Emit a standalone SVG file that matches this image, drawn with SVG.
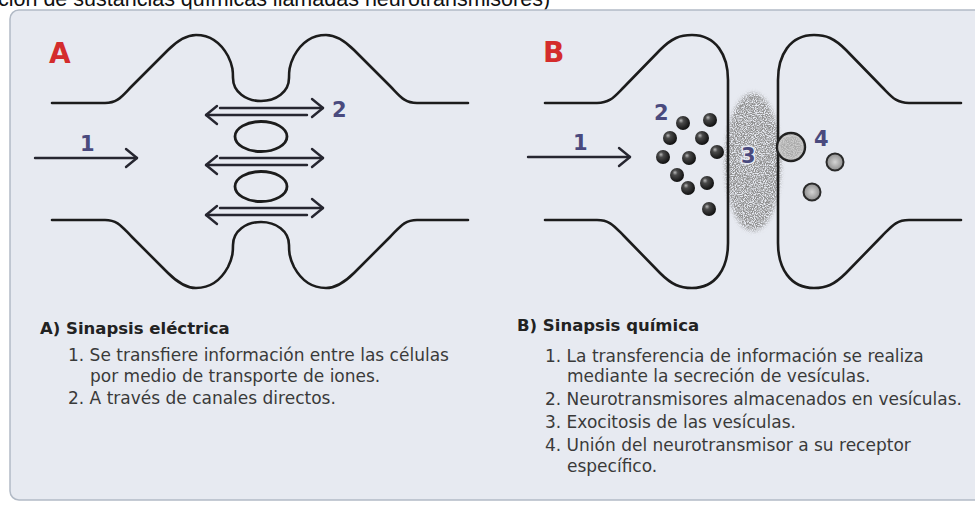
<svg xmlns="http://www.w3.org/2000/svg" width="975" height="506" viewBox="0 0 975 506">
  <defs>
    <style>
      .outline{fill:none;stroke:#1c1c1c;stroke-width:2.6;stroke-linecap:round;stroke-linejoin:round}
      .arrow{fill:none;stroke:#262630;stroke-width:2.4;stroke-linecap:round}
      .channel{fill:none;stroke:#1c1c1c;stroke-width:2.8}
      .tag{font-family:"DejaVu Sans",Verdana,sans-serif;font-weight:bold;fill:#4a4a7e;font-size:21px}
      .letter{font-family:"DejaVu Sans",Verdana,sans-serif;font-weight:bold;fill:#d42c2c;font-size:28px}
      .head{font-family:"DejaVu Sans",Verdana,sans-serif;font-weight:bold;fill:#222;font-size:16.5px}
      .body{font-family:"DejaVu Sans",Verdana,sans-serif;fill:#3a3a3a;font-size:17px}
      .caption{font-family:"Liberation Sans",Arial,sans-serif;fill:#111;font-size:21.5px}
      .ves{fill:url(#ball)}
      .spot{fill:url(#spotFill);stroke:#2a2a2a;stroke-width:2}
    </style>
    <marker id="chev" viewBox="-14 -10 16 20" refX="0" refY="0" markerWidth="16" markerHeight="20" markerUnits="userSpaceOnUse" orient="auto" style="overflow:visible">
      <path d="M-11,-9 L0,0 L-11,9" fill="none" stroke="#262630" stroke-width="2.4" stroke-linecap="round" stroke-linejoin="round"/>
    </marker>
    <radialGradient id="ball" cx="0.4" cy="0.38" r="0.62" fx="0.35" fy="0.32">
      <stop offset="0" stop-color="#b8b8b8"/>
      <stop offset="0.3" stop-color="#4a4a4a"/>
      <stop offset="1" stop-color="#101010"/>
    </radialGradient>
    <radialGradient id="spotFill" cx="0.5" cy="0.5" r="0.5">
      <stop offset="0" stop-color="#d4d4d4"/>
      <stop offset="0.6" stop-color="#a9a9a9"/>
      <stop offset="1" stop-color="#8e8e8e"/>
    </radialGradient>
    <filter id="stipple" x="-15%" y="-10%" width="130%" height="120%">
      <feTurbulence type="fractalNoise" baseFrequency="0.9" numOctaves="2" seed="7" result="n"/>
      <feColorMatrix in="n" type="matrix" values="0 0 0 0 0.28  0 0 0 0 0.28  0 0 0 0 0.28  3.6 0 0 0 -1.2" result="d"/>
      <feGaussianBlur in="SourceAlpha" stdDeviation="2" result="m"/>
      <feComposite in="d" in2="m" operator="in"/>
    </filter>
    <!-- upper membrane of the electrical synapse; the lower one is its mirror image -->
    <path id="gapMembrane" d="M52,103 H105 C118,103 122,96 132,86 L168,50 C180,38 188,35 196,35 C212,35 222,45 228,56 C233,66 233,72 233,78 C233,92 246,101 261,101 C276,101 289,92 289,78 C289,72 289,66 294,56 C300,45 310,35 326,35 C334,35 342,38 354,50 L390,86 C400,96 404,103 417,103 H468"/>
    <!-- presynaptic terminal of the chemical synapse; the postsynaptic one is mirrored -->
    <path id="terminal" d="M545,103 H597 C610,103 614,97 624,87 L660,50 C672,38 680,35 692,35 C716,35 728,55 728,80 V243 C728,268 716,288 692,288 C680,288 672,285 660,273 L624,236 C614,226 610,220 597,220 H545"/>
  </defs>

  <!-- caption line running off the top edge -->
  <text class="caption" x="-2" y="6">ción de sustancias químicas llamadas neurotransmisores)</text>

  <!-- background card -->
  <rect x="10" y="10" width="990" height="490" rx="9" fill="#e7eaf1" stroke="#b2bac6" stroke-width="1.5"/>

  <!-- A: electrical synapse -->
  <g id="panel-a">
    <text class="letter" x="49" y="63">A</text>
    <use href="#gapMembrane" class="outline"/>
    <use href="#gapMembrane" class="outline" transform="translate(0,323) scale(1,-1)"/>
    <ellipse class="channel" cx="261" cy="136.5" rx="26" ry="15"/>
    <ellipse class="channel" cx="261" cy="186.5" rx="26" ry="15"/>
    <text class="tag" x="80" y="151">1</text>
    <text class="tag" x="332" y="117">2</text>
  </g>

  <!-- B: chemical synapse -->
  <g id="panel-b">
    <text class="letter" x="543" y="62">B</text>
    <ellipse cx="753" cy="162" rx="28" ry="69" fill="#000" filter="url(#stipple)"/>
    <use href="#terminal" class="outline"/>
    <use href="#terminal" class="outline" transform="translate(1506,0) scale(-1,1)"/>
    <g id="vesicles">
      <circle class="ves" cx="683" cy="123" r="7"/>
      <circle class="ves" cx="710" cy="120" r="7"/>
      <circle class="ves" cx="670" cy="138" r="7"/>
      <circle class="ves" cx="702" cy="138" r="7"/>
      <circle class="ves" cx="663" cy="157" r="7"/>
      <circle class="ves" cx="689" cy="158" r="7"/>
      <circle class="ves" cx="717" cy="152" r="7"/>
      <circle class="ves" cx="677" cy="175" r="7"/>
      <circle class="ves" cx="688" cy="188" r="7"/>
      <circle class="ves" cx="707" cy="183" r="7"/>
      <circle class="ves" cx="709" cy="209" r="7"/>
    </g>
    <g id="receptor">
      <circle cx="791" cy="147" r="14" fill="#cdcdcd" stroke="#1c1c1c" stroke-width="2.4"/>
      <circle cx="791" cy="147" r="12" fill="#000" filter="url(#stipple)" opacity="0.55"/>
    </g>
    <circle class="spot" cx="835" cy="162" r="8.5"/>
    <circle class="spot" cx="812" cy="192" r="8.5"/>
    <text class="tag" x="573" y="150">1</text>
    <text class="tag" x="654" y="120">2</text>
    <text class="tag" x="741" y="163" stroke="#e7eaf1" stroke-width="3" paint-order="stroke">3</text>
    <text class="tag" x="814" y="146">4</text>
  </g>

  <!-- flow arrows and ion-channel arrows -->
  <g id="connectors">
    <path class="arrow" d="M35,158 H137" marker-end="url(#chev)"/>
    <path class="arrow" d="M528,157 H630" marker-end="url(#chev)"/>
    <path class="arrow" d="M220,108 H323" marker-end="url(#chev)"/>
    <path class="arrow" d="M307,115 H206" marker-end="url(#chev)"/>
    <path class="arrow" d="M220,158 H323" marker-end="url(#chev)"/>
    <path class="arrow" d="M307,165 H206" marker-end="url(#chev)"/>
    <path class="arrow" d="M220,208 H323" marker-end="url(#chev)"/>
    <path class="arrow" d="M307,215 H206" marker-end="url(#chev)"/>
  </g>

  <!-- legend texts -->
  <g id="text-a">
    <text class="head" x="40" y="334">A) Sinapsis eléctrica</text>
    <text class="body" x="68" y="361">1. Se transfiere información entre las células</text>
    <text class="body" x="90" y="382">por medio de transporte de iones.</text>
    <text class="body" x="68" y="404">2. A través de canales directos.</text>
  </g>
  <g id="text-b">
    <text class="head" x="517" y="331">B) Sinapsis química</text>
    <text class="body" x="545" y="362">1. La transferencia de información se realiza</text>
    <text class="body" x="567" y="382">mediante la secreción de vesículas.</text>
    <text class="body" x="545" y="405">2. Neurotransmisores almacenados en vesículas.</text>
    <text class="body" x="545" y="428">3. Exocitosis de las vesículas.</text>
    <text class="body" x="545" y="451">4. Unión del neurotransmisor a su receptor</text>
    <text class="body" x="567" y="472">específico.</text>
  </g>
</svg>
